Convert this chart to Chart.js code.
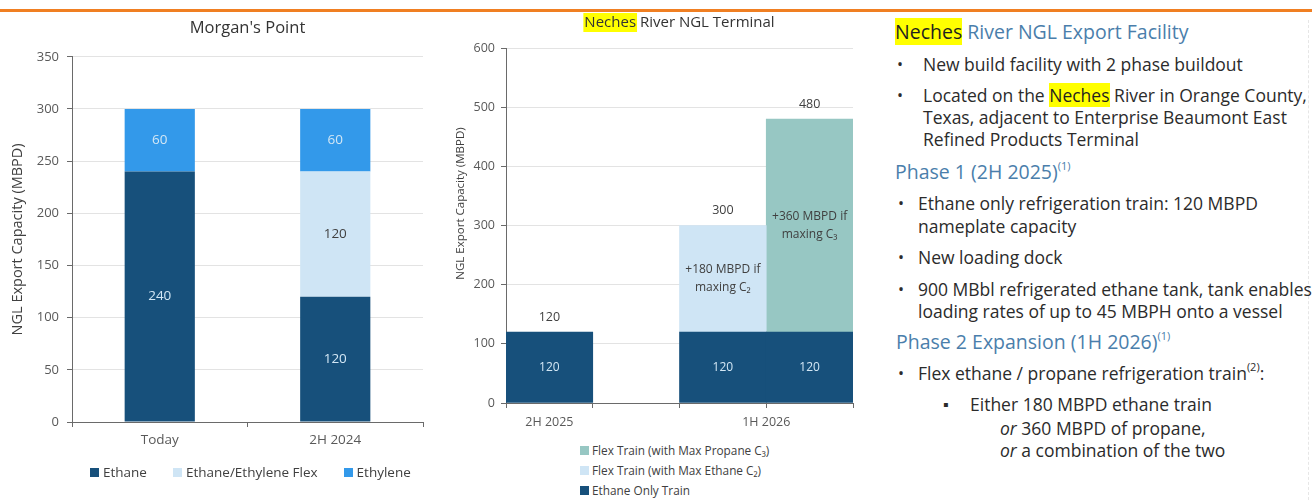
<!DOCTYPE html>
<html>
<head>
<meta charset="utf-8">
<title>Morgan's Point / Neches River</title>
<script src="https://cdn.jsdelivr.net/npm/chart.js@4.4.1/dist/chart.umd.min.js"></script>
<style>
  html, body { margin: 0; padding: 0; background: #fff; }
  body { width: 1312px; height: 500px; position: relative; overflow: hidden; font-family: 'Open Sans', sans-serif; }
  .rule { position: absolute; left: 0; top: 9px; width: 1312px; height: 3px; background: #f07f22; z-index: 2; }
  .edge { position: absolute; left: 1308px; top: 20px; width: 0; height: 480px; border-left: 1px dashed #e6e6e6; }
  #mp-wrap { position: absolute; left: 0; top: 0; width: 440px; height: 500px; }
  #nr-wrap { position: absolute; left: 440px; top: 0; width: 440px; height: 440px; }
  .legend { position: absolute; color: #404040; white-space: nowrap; }
  .legend .item { display: flex; align-items: center; }
  .legend .box { width: 9px; height: 9px; margin-right: 4px; flex: none; }
  #mp-legend { left: 90px; top: 463px; display: flex; font-size: 13.5px; }
  #mp-legend .item { margin-right: 26px; }
  #nr-legend { left: 580px; top: 440px; font-size: 11.8px; }
  #nr-legend .item { height: 20px; }
  #nr-legend .box { margin-right: 3px; }
  .ln { position: absolute; white-space: nowrap; color: #2b2b2b; font-size: 17.5px; line-height: 22px; }
  .hd { color: #4a7eab; font-size: 19.5px; line-height: 24px; }
  .hl { background: #ffff00; color: #1f1f1f; }
  .dot { position: absolute; font-size: 16px; }
  sup { font-size: 11px; line-height: 0; vertical-align: 0; position: relative; top: -0.8em; }
</style>
</head>
<body>
<div class="rule"></div>
<div class="edge"></div>

<div id="mp-wrap"><canvas id="mp-chart"></canvas></div>
<div id="mp-legend" class="legend"></div>

<div id="nr-wrap"><canvas id="nr-chart"></canvas></div>
<div id="nr-legend" class="legend"></div>

<div class="ln hd" style="left:895px;top:20px"><span class="hl">Neches</span> River NGL Export Facility</div>
<div class="ln" style="left:923px;top:53px"><span class="dot" style="left:-26px">•</span>New build facility with 2 phase buildout</div>
<div class="ln" style="left:923px;top:84px"><span class="dot" style="left:-26px">•</span>Located on the <span class="hl">Neches</span> River in Orange County,</div>
<div class="ln" style="left:923px;top:106px">Texas, adjacent to Enterprise Beaumont East</div>
<div class="ln" style="left:923px;top:128px">Refined Products Terminal</div>

<div class="ln hd" style="left:895px;top:160px">Phase 1 (2H 2025)<sup>(1)</sup></div>
<div class="ln" style="left:918px;top:192px"><span class="dot" style="left:-20px">•</span>Ethane only refrigeration train: 120 MBPD</div>
<div class="ln" style="left:918px;top:215px">nameplate capacity</div>
<div class="ln" style="left:918px;top:246px"><span class="dot" style="left:-20px">•</span>New loading dock</div>
<div class="ln" style="left:918px;top:278px"><span class="dot" style="left:-20px">•</span>900 MBbl refrigerated ethane tank, tank enables</div>
<div class="ln" style="left:918px;top:300px">loading rates of up to 45 MBPH onto a vessel</div>

<div class="ln hd" style="left:896px;top:330px">Phase 2 Expansion (1H 2026)<sup>(1)</sup></div>
<div class="ln" style="left:918px;top:362px"><span class="dot" style="left:-20px">•</span>Flex ethane / propane refrigeration train<sup>(2)</sup>:</div>
<div class="ln" style="left:970px;top:393px"><span class="dot" style="left:-27px">▪</span>Either 180 MBPD ethane train</div>
<div class="ln" style="left:1000px;top:417px"><i>or</i> 360 MBPD of propane,</div>
<div class="ln" style="left:1000px;top:439px"><i>or</i> a combination of the two</div>

<script>
// Morgan's Point
var mpCategories = ['Today', '2H 2024'];
var mpEthane = [240, 120];
var mpFlex = [null, 120];
var mpEthylene = [60, 60];
var mpYMax = 350;
var mpYStep = 50;

// Neches River NGL Terminal
var nrSlots = ['2H 2025', '', '1H 2026', '1H 2026'];
var nrEthaneOnly = [120, null, 120, 120];
var nrFlexEthane = [null, null, 180, null];
var nrFlexPropane = [null, null, null, 360];
var nrFlexEthaneNote = [null, null, ['+180 MBPD if', 'maxing C\u2082'], null];
var nrFlexPropaneNote = [null, null, null, ['+360 MBPD if', 'maxing C\u2083']];
var nrYMax = 600;
var nrYStep = 100;
var nrTitle = 'Neches River NGL Terminal';
var nrHighlight = 'Neches';
var yTitle = 'NGL Export Capacity (MBPD)';

var DARK = '#17507b';
var PALE = '#cfe5f5';
var BRIGHT = '#3399ea';
var TEAL = '#97c7c3';
var ON_DARK = '#d3e7f5';
var ON_PALE = '#404040';
var AXIS = '#6a6a6a';
var GRID = '#e3e3e3';
var TICK_TEXT = '#595959';

Chart.defaults.font.family = "'Open Sans', sans-serif";
Chart.defaults.animation = false;

// text in the middle of each stacked segment
var segLabels = {
  id: 'segLabels',
  afterDatasetsDraw: function (chart, args, opts) {
    var ctx = chart.ctx;
    ctx.save();
    ctx.font = opts.size + "px 'Open Sans', sans-serif";
    ctx.textAlign = 'center';
    ctx.textBaseline = 'middle';
    chart.data.datasets.forEach(function (ds, di) {
      var meta = chart.getDatasetMeta(di);
      meta.data.forEach(function (bar, i) {
        var v = ds.data[i];
        if (v == null) return;
        var lines = ds.notes ? ds.notes[i] : [String(v)];
        if (!lines) return;
        var cy = (bar.y + bar.base) / 2;
        var lh = opts.lineHeight;
        ctx.fillStyle = ds.textColor;
        lines.forEach(function (ln, k) {
          ctx.fillText(ln, bar.x, cy + (k - (lines.length - 1) / 2) * lh);
        });
      });
    });
    ctx.restore();
  }
};

// totals above the stacks
var stackTotals = {
  id: 'stackTotals',
  afterDatasetsDraw: function (chart, args, opts) {
    var ctx = chart.ctx;
    ctx.save();
    ctx.font = opts.size + "px 'Open Sans', sans-serif";
    ctx.textAlign = 'center';
    ctx.textBaseline = 'middle';
    ctx.fillStyle = '#404040';
    chart.data.labels.forEach(function (lab, i) {
      var sum = 0, top = null, x = null;
      chart.data.datasets.forEach(function (ds, di) {
        var v = ds.data[i];
        if (v == null) return;
        sum += v;
        var bar = chart.getDatasetMeta(di).data[i];
        if (top === null || bar.y < top) { top = bar.y; x = bar.x; }
      });
      if (sum > 0) ctx.fillText(String(sum), x, top - opts.gap);
    });
    ctx.restore();
  }
};

// x labels spanning consecutive slots with the same period
var spanLabels = {
  id: 'spanLabels',
  afterDraw: function (chart, args, opts) {
    var sc = chart.scales.x;
    var labels = chart.data.labels;
    var ctx = chart.ctx;
    ctx.save();
    ctx.font = opts.size + "px 'Open Sans', sans-serif";
    ctx.fillStyle = TICK_TEXT;
    ctx.textAlign = 'center';
    ctx.textBaseline = 'middle';
    var i = 0;
    while (i < labels.length) {
      var j = i;
      while (j + 1 < labels.length && labels[j + 1] === labels[i]) j++;
      if (labels[i]) {
        var x = (sc.getPixelForValue(i) + sc.getPixelForValue(j)) / 2;
        ctx.fillText(labels[i], x, chart.chartArea.bottom + opts.offset);
      }
      i = j + 1;
    }
    ctx.restore();
  }
};

// rotated axis title, sitting a bit above the middle of the plot like the original
var sideTitle = {
  id: 'sideTitle',
  afterDraw: function (chart, args, opts) {
    var ctx = chart.ctx;
    var area = chart.chartArea;
    ctx.save();
    ctx.translate(opts.x, (area.top + area.bottom) / 2 - opts.lift);
    ctx.rotate(-Math.PI / 2);
    ctx.font = opts.size + "px 'Open Sans', sans-serif";
    ctx.fillStyle = '#404040';
    ctx.textAlign = 'center';
    ctx.textBaseline = 'middle';
    ctx.fillText(opts.text, 0, 0);
    ctx.restore();
  }
};

// yellow highlight behind the first word of the title
var titleMark = {
  id: 'titleMark',
  beforeDraw: function (chart, args, opts) {
    var tb = chart.titleBlock;
    if (!tb) return;
    var ctx = chart.ctx;
    var font = Chart.helpers.toFont(tb.options.font);
    var pad = Chart.helpers.toPadding(tb.options.padding);
    ctx.save();
    ctx.font = font.string;
    var full = ctx.measureText(nrTitle).width;
    var w = ctx.measureText(nrHighlight).width;
    var x0 = (tb.left + tb.right) / 2 - full / 2;
    ctx.fillStyle = '#ffff00';
    ctx.fillRect(x0 - 1, tb.top + pad.top - 1, w + 2, font.lineHeight + 1);
    ctx.restore();
  }
};

function htmlLegend(chart, el, reverse) {
  var items = chart.data.datasets.map(function (ds) {
    return { text: ds.label, color: ds.backgroundColor };
  });
  if (reverse) items.reverse();
  items.forEach(function (it) {
    var row = document.createElement('div');
    row.className = 'item';
    var box = document.createElement('span');
    box.className = 'box';
    box.style.background = it.color;
    var txt = document.createElement('span');
    txt.textContent = it.text;
    row.appendChild(box);
    row.appendChild(txt);
    el.appendChild(row);
  });
}

var mpChart = new Chart(document.getElementById('mp-chart'), {
  type: 'bar',
  data: {
    labels: mpCategories,
    datasets: [
      { label: 'Ethane', data: mpEthane, backgroundColor: DARK, textColor: ON_DARK },
      { label: 'Ethane/Ethylene Flex', data: mpFlex, backgroundColor: PALE, textColor: ON_PALE },
      { label: 'Ethylene', data: mpEthylene, backgroundColor: BRIGHT, textColor: ON_DARK }
    ]
  },
  options: {
    responsive: true,
    maintainAspectRatio: false,
    layout: { padding: { left: 6, right: 17, top: 0, bottom: 48 } },
    datasets: { bar: { barPercentage: 0.4, categoryPercentage: 1, borderWidth: 0 } },
    plugins: {
      title: {
        display: true, text: "Morgan's Point", fullSize: false, color: '#333',
        font: { size: 16.5, weight: 'normal' }, padding: { top: 18, bottom: 19 }
      },
      legend: { display: false },
      tooltip: { enabled: false },
      segLabels: { size: 13.5, lineHeight: 16 }
    },
    scales: {
      x: {
        stacked: true,
        grid: { offset: true, drawOnChartArea: false, tickColor: AXIS, tickLength: 5 },
        border: { color: AXIS },
        ticks: { color: TICK_TEXT, font: { size: 13.5 }, padding: 5 },
        afterFit: function (s) { s.height = 30; }
      },
      y: {
        stacked: true, min: 0, max: mpYMax,
        ticks: { stepSize: mpYStep, color: TICK_TEXT, font: { size: 13 }, padding: 8 },
        grid: { color: GRID, tickColor: AXIS, tickLength: 5 },
        border: { color: AXIS },
        title: {
          display: true, text: yTitle, color: '#404040',
          font: { size: 14.5 }, padding: { top: 3, bottom: 3 }
        },
        afterFit: function (s) { s.width = 66; }
      }
    }
  },
  plugins: [segLabels]
});
htmlLegend(mpChart, document.getElementById('mp-legend'), false);

var nrChart = new Chart(document.getElementById('nr-chart'), {
  type: 'bar',
  data: {
    labels: nrSlots,
    datasets: [
      { label: 'Ethane Only Train', data: nrEthaneOnly, backgroundColor: DARK, textColor: ON_DARK },
      { label: 'Flex Train (with Max Ethane C\u2082)', data: nrFlexEthane, backgroundColor: PALE, textColor: ON_PALE, notes: nrFlexEthaneNote },
      { label: 'Flex Train (with Max Propane C\u2083)', data: nrFlexPropane, backgroundColor: TEAL, textColor: ON_PALE, notes: nrFlexPropaneNote }
    ]
  },
  options: {
    responsive: true,
    maintainAspectRatio: false,
    layout: { padding: { left: 0, right: 27, top: 0, bottom: 0 } },
    datasets: { bar: { barPercentage: 1, categoryPercentage: 1, borderWidth: 0 } },
    plugins: {
      title: {
        display: true, text: nrTitle, fullSize: false, color: '#333',
        font: { size: 15, weight: 'normal' }, padding: { top: 14, bottom: 16 }
      },
      legend: { display: false },
      tooltip: { enabled: false },
      segLabels: { size: 12, lineHeight: 18 },
      stackTotals: { size: 12.5, gap: 15 },
      spanLabels: { size: 12.5, offset: 19 },
      sideTitle: { text: yTitle, size: 11.5, x: 21, lift: 22 }
    },
    scales: {
      x: {
        stacked: true,
        grid: { offset: true, drawOnChartArea: false, tickColor: AXIS, tickLength: 5 },
        border: { color: AXIS },
        ticks: { display: false },
        afterFit: function (s) { s.height = 37; }
      },
      y: {
        stacked: true, min: 0, max: nrYMax,
        ticks: { stepSize: nrYStep, color: TICK_TEXT, font: { size: 12.5 }, padding: 6 },
        grid: { color: GRID, tickColor: AXIS, tickLength: 5 },
        border: { color: AXIS },
        afterFit: function (s) { s.width = 66; }
      }
    }
  },
  plugins: [titleMark, segLabels, stackTotals, spanLabels, sideTitle]
});
htmlLegend(nrChart, document.getElementById('nr-legend'), true);
</script>
</body>
</html>
